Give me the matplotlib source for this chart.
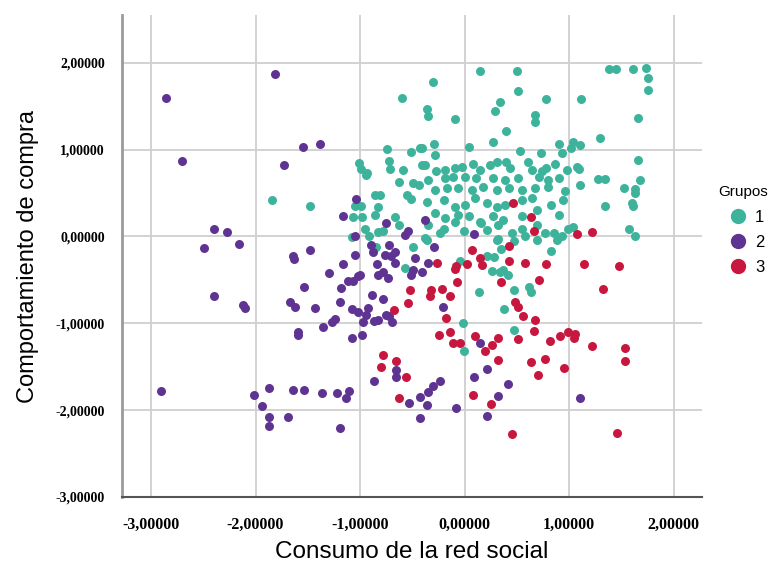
import numpy as np
import matplotlib
matplotlib.use("Agg")
from matplotlib import pyplot as plt
from matplotlib.lines import Line2D

# group 1 (teal)
g1_x = [1.38, 1.45, 1.61, 1.73, 1.75, 1.75, 1.11, 1.66, 1.29, 1.04, 1.10, 1.02, 1.66, 1.07, 1.09,
        1.10, 1.28, 1.34, 1.68, 1.52, 1.63, 1.63, 1.60, 1.61, 1.34, 1.04, 1.57, 1.63,
        -0.30, 0.15, 0.50, 0.51, 0.34, 0.29, 0.78, -0.36, -0.35, -0.09, 0.67, 0.67, 0.40, 0.27,
        -0.29, 0.04, -0.41, -0.28, 0.90, 0.53, 0.73, 0.93, 0.86,
        -0.38, -0.27, -0.19, -0.09, -0.03, 0.08, 0.15, 0.24, 0.31, 0.40, 0.43, 0.61, 0.64, 0.74, 0.78, 0.98,
        -0.60, -0.74, -0.51, -0.43, -1.01, -0.72, -0.99, -0.93, -0.71, -0.59, -0.41,
        -1.84, -1.48, -0.94, -0.63, -0.49, -0.44, -0.86, -0.81, -0.55, -0.51, -1.05, -0.99, -0.83, -0.86,
        -1.07, -0.98, -0.95, -0.67, -0.63, -0.78, -0.83, -0.91, -1.08, -0.85, -0.49, -0.57,
        -0.35, -0.19, -0.11, 0.00, 0.11, 0.27, 0.39, 0.51, 0.71, 0.80, 0.90,
        -0.28, -0.17, -0.06, 0.07, 0.18, 0.31, 0.42, 0.55, 0.67, 0.80, 0.96,
        -0.36, -0.20, -0.09, 0.00, 0.10, 0.21, 0.31, 0.39, 0.55, 0.64, 0.83, 0.94,
        -0.28, -0.19, -0.06, 0.04, 0.15, 0.27, 0.37, 0.55, 0.69, 0.90,
        -0.35, -0.20, -0.09, 0.16, 0.32, 0.55, 0.69, 0.85, 0.99,
        -0.38, -0.24, -0.01, 0.21, 0.31, 0.45, 0.58, 0.69, 0.77, 0.88, 0.93,
        0.32, 0.47, 0.35, 0.21, 0.28, -0.04, 0.83, 0.26, 0.34, 0.41, 0.37, 0.14, 0.47, 0.62, 0.63,
        0.38, -0.02, 0.47, -0.01, -0.36]
g1_y = [1.93, 1.93, 1.93, 1.94, 1.83, 1.69, 1.58, 1.36, 1.13, 1.09, 1.05, 1.02, 0.88, 0.80, 0.78,
        0.59, 0.66, 0.66, 0.65, 0.56, 0.55, 0.50, 0.39, 0.35, 0.35, 0.11, 0.09, 0.00,
        1.78, 1.90, 1.91, 1.67, 1.55, 1.45, 1.58, 1.47, 1.39, 1.35, 1.40, 1.32, 1.21, 1.09,
        1.06, 1.03, 1.02, 0.94, 1.07, 0.98, 0.96, 0.96, 0.84,
        0.82, 0.75, 0.77, 0.79, 0.80, 0.84, 0.77, 0.82, 0.86, 0.86, 0.79, 0.86, 0.77, 0.75, 0.79, 0.77,
        1.59, 1.01, 0.97, 1.02, 0.85, 0.87, 0.78, 0.73, 0.78, 0.77, 0.82,
        0.42, 0.35, 0.71, 0.63, 0.62, 0.59, 0.48, 0.48, 0.48, 0.43, 0.35, 0.35, 0.34, 0.25,
        0.22, 0.22, 0.09, 0.22, 0.13, 0.06, 0.05, 0.01, -0.01, -0.12, -0.12, -0.36,
        0.65, 0.67, 0.69, 0.69, 0.67, 0.67, 0.65, 0.67, 0.69, 0.65, 0.67,
        0.54, 0.56, 0.56, 0.54, 0.57, 0.54, 0.56, 0.54, 0.56, 0.57, 0.52,
        0.40, 0.42, 0.34, 0.36, 0.44, 0.38, 0.34, 0.36, 0.42, 0.44, 0.36, 0.42,
        0.27, 0.21, 0.25, 0.23, 0.17, 0.23, 0.19, 0.23, 0.31, 0.25,
        0.13, 0.09, 0.17, 0.15, 0.13, 0.09, 0.13, 0.04, 0.09,
        -0.02, 0.04, 0.06, 0.07, -0.04, 0.04, 0.00, -0.04, 0.04, -0.04, 0.00,
        -0.03, -0.05, -0.14, -0.22, -0.24, -0.28, -0.17, -0.40, -0.41, -0.44, -0.39, -0.64, -0.62, -0.58, -0.64,
        -0.84, -1.00, -1.08, -1.32, -0.04]

# group 2 (purple)
g2_x = [-2.86, -2.70, -1.81, -1.55, -1.38, -1.73,
        -2.40, -2.27, -2.49, -2.16, -2.40, -2.12, -2.10,
        -2.90, -2.01, -1.94, -1.87, -1.87, -1.87,
        -1.59, -1.08, -0.98, -1.64, -1.54, -1.36, -1.22, -1.11, -1.13, -1.69, -1.19,
        -0.87, -0.66, -0.66, -0.43, -0.53, -0.43,
        0.15, 0.21, 0.09, 0.41, 0.32, 0.21, -0.08, -0.24, -0.30, -0.35, -0.36, 1.10,
        -1.04, -1.16, -0.75, -0.57, -0.54, -1.05, -0.90, -0.88, -0.72, -0.76, -0.67, -0.70, -1.05,
        -1.48, -1.64, -1.63, -0.84, -0.67, -0.47, -0.49, -1.16, -1.30, -1.00, -0.83, -0.78, -0.73,
        -0.51, -1.12, -1.07, -1.02, -1.18, -1.54, -0.89, -0.78, -1.19, -1.67, -1.62, -1.43, -1.08,
        -1.02, -0.92, -0.94, -0.75, -1.24, -1.27, -1.35, -0.97, -0.87, -0.83, -0.72, -0.69, -1.59,
        -0.38, 0.09, -0.29, -0.35, -0.41, -0.21]
g2_y = [1.60, 0.87, 1.87, 1.03, 1.06, 0.82,
        0.09, 0.05, -0.13, -0.09, -0.69, -0.79, -0.82,
        -1.78, -1.82, -1.95, -1.74, -2.08, -2.18,
        -1.13, -1.17, -1.13, -1.77, -1.77, -1.80, -1.80, -1.78, -1.86, -2.08, -2.20,
        -1.67, -1.54, -1.62, -1.85, -1.92, -2.09,
        -1.23, -1.53, -1.62, -1.70, -1.84, -2.07, -1.98, -1.67, -1.72, -1.79, -1.94, -1.86,
        0.43, 0.23, 0.15, 0.02, 0.06, 0.01, -0.10, -0.18, -0.10, -0.21, -0.18, -0.23, -0.21,
        -0.16, -0.22, -0.26, -0.32, -0.31, -0.25, -0.39, -0.32, -0.42, -0.44, -0.44, -0.41, -0.48,
        -0.44, -0.51, -0.51, -0.46, -0.59, -0.58, -0.67, -0.72, -0.75, -0.75, -0.81, -0.82, -0.83,
        -0.87, -0.82, -0.90, -0.90, -0.95, -0.99, -1.04, -0.98, -0.97, -0.96, -0.92, -0.98, -1.10,
        0.19, 0.03, -0.12, -0.30, -0.41, -0.81]

# group 3 (red)
g3_x = [-0.78, -0.80, -0.66, -0.56, -0.63,
        -0.25, -0.11, -0.04, 0.10, 0.19, 0.26, 0.32, 0.32, 0.51, 0.63, 0.77, 0.70, 0.82, 0.91, 0.95,
        0.08, 0.25, 0.45, 1.05, 1.22, 1.53, 1.53, 1.46,
        1.07, 1.22, 1.14, 1.48, 1.32, 1.06, -0.52, -0.54, -0.68,
        0.46, 0.63, 0.66, 0.42, 0.07, 0.15, 0.17, 0.02, -0.08, -0.09, -0.26, 0.42, 0.58, 0.78,
        0.71, 0.35, -0.07, -0.32, -0.22, -0.33, -0.14, -0.18, 0.48, 0.51, 0.56, 0.67,
        -0.14, 0.66, 0.99]
g3_y = [-1.36, -1.50, -1.43, -1.62, -1.86,
        -1.13, -1.23, -1.23, -1.15, -1.32, -1.25, -1.17, -1.42, -1.18, -1.44, -1.41, -1.60, -1.20, -1.15, -1.51,
        -1.83, -1.93, -2.27, -1.17, -1.26, -1.28, -1.43, -2.26,
        0.03, 0.05, -0.32, -0.34, -0.60, -1.12, -0.62, -0.77, -0.85,
        0.39, 0.22, 0.06, -0.11, -0.16, -0.25, -0.33, -0.32, -0.34, -0.37, -0.30, -0.28, -0.31, -0.32,
        -0.50, -0.52, -0.53, -0.62, -0.60, -0.69, -0.68, -0.94, -0.75, -0.81, -0.92, -0.96,
        -1.10, -1.09, -1.10]

groups = ["1", "2", "3"]
colors = ["#3db39c", "#5e3391", "#c8173f"]
ticks = [-3, -2, -1, 0, 1, 2]

fig = plt.figure(figsize=(7.8, 5.67), dpi=100)
ax = fig.add_axes([0.156, 0.1235, 0.744, 0.85])

data = [(g1_x, g1_y), (g2_x, g2_y), (g3_x, g3_y)]
for (xs, ys), c in zip(data, colors):
    ax.scatter(xs, ys, s=42, color=c, linewidths=0, zorder=3)

ax.set_xlim(-3.28, 2.27)
ax.set_ylim(-3.0, 2.55)
ax.set_xticks(ticks)
ax.set_yticks(ticks)
fmt = lambda v, p: ("%.5f" % v).replace(".", ",")
ax.xaxis.set_major_formatter(plt.FuncFormatter(fmt))
ax.yaxis.set_major_formatter(plt.FuncFormatter(fmt))
for lab in ax.get_xticklabels():
    lab.set_fontfamily("Liberation Serif")
    lab.set_fontweight("bold")
    lab.set_fontsize(11.5)
for lab in ax.get_yticklabels():
    lab.set_fontfamily("Liberation Serif")
    lab.set_fontweight("bold")
    lab.set_fontsize(10)
ax.tick_params(length=0)
ax.tick_params(axis="x", pad=14)
ax.tick_params(axis="y", pad=12)
ax.grid(True, color="#cfcfcf", linewidth=1.3, zorder=0)
ax.set_axisbelow(True)
for s in ["top", "right"]:
    ax.spines[s].set_visible(False)
ax.spines["left"].set_color("#9a9a9a")
ax.spines["left"].set_linewidth(2)
ax.spines["bottom"].set_color("#555555")
ax.spines["bottom"].set_linewidth(1.5)

ax.set_xlabel("Consumo de la red social", fontsize=17.5, family="Liberation Sans", labelpad=6)
ax.set_ylabel("Comportamiento de compra", fontsize=17, family="Liberation Sans", labelpad=12)

handles = [Line2D([], [], marker="o", linestyle="", markersize=10, color=c) for c in colors]
leg = fig.legend(handles, groups, title="Grupos", loc="upper left", bbox_to_anchor=(0.912, 0.685),
                 frameon=False, prop={"family": "Liberation Sans", "size": 12},
                 handletextpad=0.0, labelspacing=0.62, borderaxespad=0)
leg.get_title().set_fontfamily("Liberation Sans")
leg.get_title().set_fontsize(11)

fig.savefig("out.png", dpi=100)
